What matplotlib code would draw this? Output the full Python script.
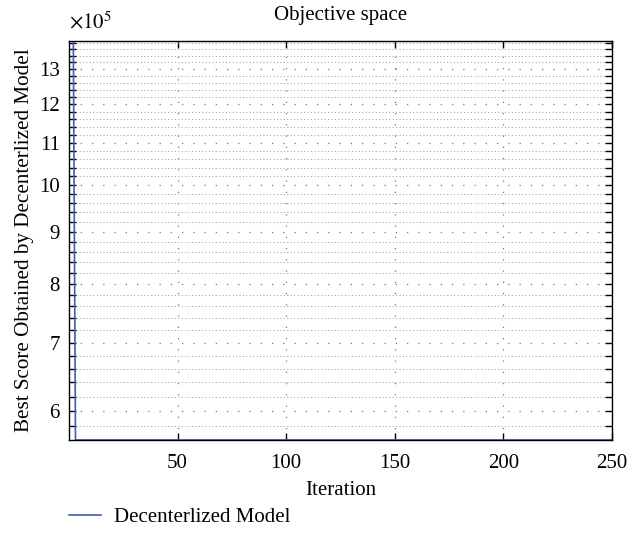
import numpy as np
import matplotlib.pyplot as plt
from matplotlib.ticker import FixedLocator, FuncFormatter, NullFormatter

plt.rcParams['font.family'] = ['Liberation Serif', 'DejaVu Serif']

# data
iterations = np.arange(1, 251)
start_score = 13.85e5
best_score = 5.62e5
scores = np.full(len(iterations), best_score)
scores[:2] = start_score

y_major = [6e5, 7e5, 8e5, 9e5, 10e5, 11e5, 12e5, 13e5]
y_minor = [v * 1e5 for v in np.arange(5.6, 13.9, 0.2) if abs(v - round(v)) > 1e-6]
x_ticks = [50, 100, 150, 200, 250]

fig = plt.figure(figsize=(6.41, 5.38), dpi=100)
ax = fig.add_axes([0.1076, 0.1822, 0.847, 0.7416])

line, = ax.semilogy(iterations, scores, color='#3f5fb2', lw=1.2, label='Decenterlized Model')

ax.set_xlim(0, 250)
ax.set_ylim(best_score, start_score)

ax.yaxis.set_major_locator(FixedLocator(y_major))
ax.yaxis.set_minor_locator(FixedLocator(y_minor))
ax.yaxis.set_major_formatter(FuncFormatter(lambda v, p: f'{v / 1e5:g}'))
ax.yaxis.set_minor_formatter(NullFormatter())
ax.xaxis.set_major_locator(FixedLocator(x_ticks))

ax.tick_params(which='both', direction='in', top=True, right=True, labelsize=15, width=1, color='black')
ax.tick_params(which='both', length=5)
ax.tick_params(axis='x', which='major', pad=10)
ax.tick_params(axis='y', which='major', pad=6.5)
for s in ax.spines.values():
    s.set_linewidth(1)
    s.set_color('black')

ax.grid(which='major', axis='both', color='#777777', lw=0.9, linestyle=(0, (1, 8)))
ax.grid(which='minor', axis='y', color='#999999', lw=0.7, linestyle=(0, (1, 2.5)))

ax.set_title('Objective space', fontsize=15, pad=15)
ax.set_xlabel('Iteration', fontsize=15, labelpad=6)
ax.set_ylabel('Best Score Obtained by Decenterlized Model', fontsize=15.2, labelpad=4)
ax.text(0.0, 1.02, r'$\times 10^{5}$', transform=ax.transAxes, fontsize=15,
        ha='left', va='bottom', math_fontfamily='stix')

fig.legend(handles=[line], loc='center left', bbox_to_anchor=(69 / 641, 1 - 517 / 538),
           frameon=False, fontsize=15, handlelength=1.55, handletextpad=0.63,
           borderpad=0, borderaxespad=0)

fig.savefig('out.png', dpi=100)
